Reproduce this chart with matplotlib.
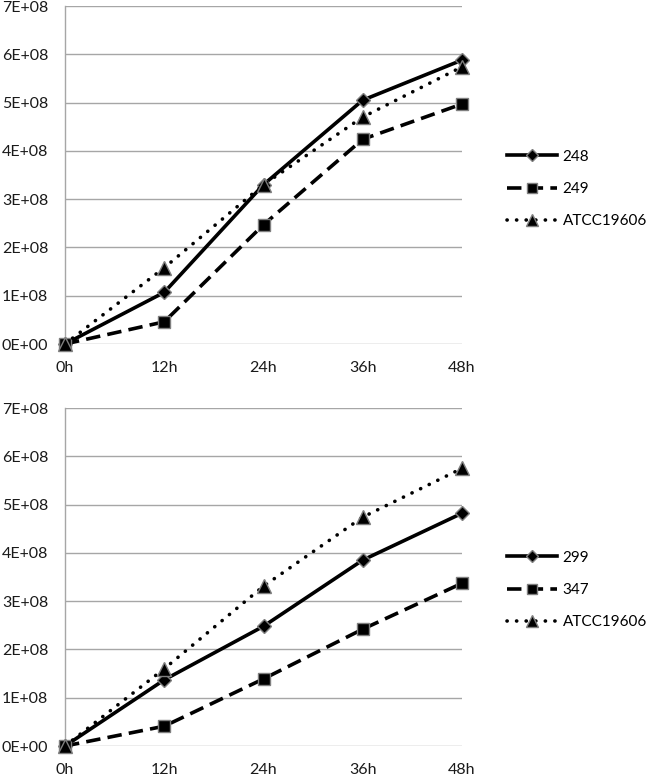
import matplotlib
matplotlib.use("Agg")
import matplotlib.pyplot as plt
from matplotlib.ticker import FuncFormatter

plt.rcParams['font.family'] = ['Lato', 'DejaVu Sans']

categories = ["0h", "12h", "24h", "36h", "48h"]

top_labels = ["248", "249", "ATCC19606"]
top_248 = [0.0, 1.07e8, 3.30e8, 5.05e8, 5.88e8]
top_249 = [0.0, 0.46e8, 2.47e8, 4.24e8, 4.97e8]
top_atcc = [0.0, 1.58e8, 3.30e8, 4.70e8, 5.74e8]

bot_labels = ["299", "347", "ATCC19606"]
bot_299 = [0.0, 1.37e8, 2.48e8, 3.85e8, 4.82e8]
bot_347 = [0.0, 0.41e8, 1.39e8, 2.42e8, 3.37e8]
bot_atcc = [0.0, 1.60e8, 3.31e8, 4.74e8, 5.75e8]

yticks = [0, 1e8, 2e8, 3e8, 4e8, 5e8, 6e8, 7e8]

fig = plt.figure(figsize=(6.5, 7.77), dpi=100)
W, H = 650, 777

def rect(l, t, r, b):
    return [l / W, 1 - b / H, (r - l) / W, (b - t) / H]

ax1 = fig.add_axes(rect(65, 6, 462, 344))
ax2 = fig.add_axes(rect(65, 408, 462, 746))

styles = [
    dict(ls='-', marker='D', ms=7.5, cap='butt'),
    dict(ls=(0, (4.0, 2.0)), marker='s', ms=9, cap='butt'),
    dict(ls=(0, (0.05, 2.6)), marker='^', ms=10, cap='round'),
]

FS = 11.5

def draw(ax, series, labels, legend_y):
    x = list(range(len(categories)))
    handles = []
    for vals, st, lab in zip(series, styles, labels):
        h, = ax.plot(x, vals, color='black', lw=2.6, linestyle=st['ls'],
                     marker=st['marker'], markersize=st['ms'],
                     markerfacecolor='black', markeredgecolor='#7f7f7f',
                     markeredgewidth=1.0, label=lab, clip_on=False,
                     dash_capstyle=st['cap'], zorder=3)
        handles.append(h)
    ax.set_xlim(0, len(categories) - 1)
    ax.set_ylim(0, 7e8)
    ax.set_xticks(x)
    ax.set_xticklabels(categories)
    ax.set_yticks(yticks)
    ax.yaxis.set_major_formatter(FuncFormatter(lambda v, p: f"{v:.0E}"))
    ax.grid(axis='y', color='#a6a6a6', lw=1.0)
    ax.grid(axis='x', visible=False)
    for s in ['top', 'right', 'bottom']:
        ax.spines[s].set_visible(False)
    ax.spines['left'].set_color('#a6a6a6')
    ax.spines['left'].set_linewidth(1.0)
    ax.tick_params(length=0, labelsize=FS, colors='#1a1a1a')
    ax.tick_params(axis='y', pad=12)
    ax.tick_params(axis='x', pad=12)
    ax.set_axisbelow(True)
    fig.legend(handles=handles, loc='center left',
               bbox_to_anchor=(507 / W, 1 - legend_y / H),
               frameon=False, fontsize=11, handlelength=3.3,
               handletextpad=0.33, labelspacing=1.2,
               borderpad=0, borderaxespad=0, markerscale=0.8)

draw(ax1, [top_248, top_249, top_atcc], top_labels, 189)
draw(ax2, [bot_299, bot_347, bot_atcc], bot_labels, 590)

fig.savefig("out.png", dpi=100)
